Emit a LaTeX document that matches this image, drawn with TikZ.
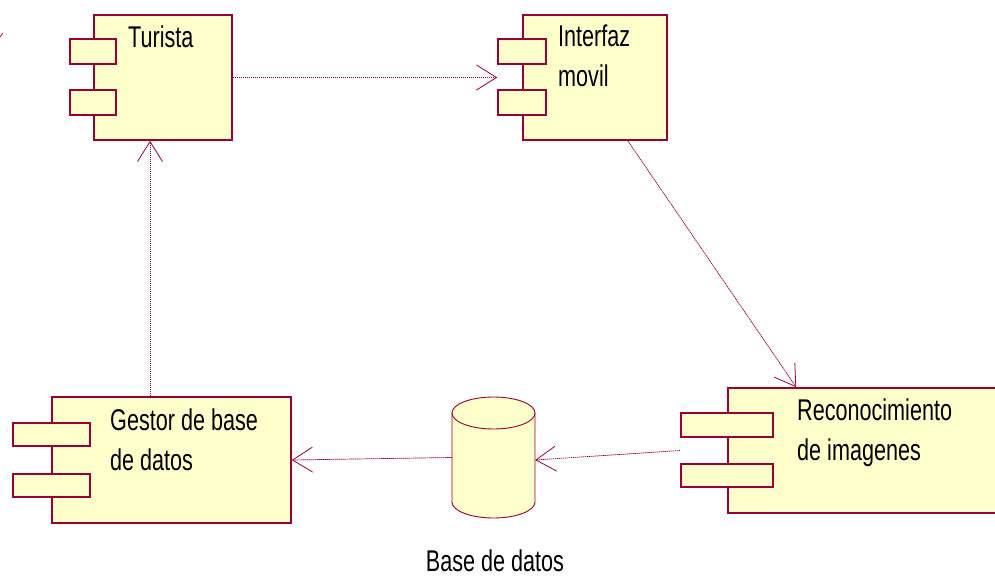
\documentclass[tikz,border=0pt]{standalone}
\usepackage{fontspec}
\newfontfamily\lblfont[FakeStretch=0.72]{Liberation Sans}
\usetikzlibrary{arrows.meta,calc}
\definecolor{umlline}{RGB}{153,0,51}
\definecolor{umlfill}{RGB}{255,255,204}
\tikzset{
  comp/.style={draw=umlline, fill=umlfill, line width=1.6pt, rectangle, inner sep=0pt},
  porttab/.style={draw=umlline, fill=umlfill, line width=1.6pt, rectangle, inner sep=0pt},
  lbl/.style={anchor=base west, inner sep=0pt, align=left, font=\lblfont\fontsize{30}{40}\selectfont},
  dep/.style={draw=umlline, line width=0.7pt, dash pattern=on 1.4pt off 0.6pt,
    -{Straight Barb[length=20pt,width=25pt,line width=0.8pt]}},
}
\begin{document}
\begin{tikzpicture}[x=1pt,y=-1pt]
\useasboundingbox (0,0) rectangle (995,577);

% component: Turista
\node[comp, minimum width=138pt, minimum height=125pt] (turista) at (163,77.5) {};
\node[porttab, minimum width=46pt, minimum height=25pt] (ttab1) at (93,51.5) {};
\node[porttab, minimum width=46pt, minimum height=25pt] (ttab2) at (93,102.5) {};
\node[lbl] (tlbl) at (128,48) {Turista};

% component: Interfaz movil (label anchored at the baseline of its last line)
\node[comp, minimum width=144pt, minimum height=125pt] (interfaz) at (595,77.5) {};
\node[porttab, minimum width=48pt, minimum height=25pt] (itab1) at (522,51.5) {};
\node[porttab, minimum width=48pt, minimum height=25pt] (itab2) at (522,102.5) {};
\node[lbl] (ilbl) at (558,87) {Interfaz\\movil};

% component: Gestor de base de datos
\node[comp, minimum width=239pt, minimum height=126pt] (gestor) at (171.5,460) {};
\node[porttab, minimum width=77pt, minimum height=23pt] (gtab1) at (51.5,434.5) {};
\node[porttab, minimum width=77pt, minimum height=23pt] (gtab2) at (51.5,485.5) {};
\node[lbl] (glbl) at (110,470) {Gestor de base\\de datos};

% component: Reconocimiento de imagenes
\node[comp, minimum width=282pt, minimum height=125pt] (recon) at (869,450.5) {};
\node[porttab, minimum width=92pt, minimum height=24pt] (rtab1) at (727,425) {};
\node[porttab, minimum width=92pt, minimum height=23pt] (rtab2) at (727,475.5) {};
\node[lbl] (rlbl) at (797,460) {Reconocimiento\\de imagenes};

% database cylinder
\node[minimum width=83pt, minimum height=121pt, inner sep=0pt] (db) at (493.5,457.5) {};
\fill[umlfill] (452,413) -- (452,502) arc[start angle=180, end angle=360, x radius=41.5, y radius=-16]
  -- (535,413) arc[start angle=0, end angle=180, x radius=41.5, y radius=-16] -- cycle;
\draw[umlline, line width=0.9pt] (452,413) -- (452,502)
  arc[start angle=180, end angle=360, x radius=41.5, y radius=-16] -- (535,413);
\draw[umlline, line width=0.9pt, fill=umlfill] (493.5,413) ellipse[x radius=41.5, y radius=16];
\node[anchor=base, inner sep=0pt, font=\lblfont\fontsize{30}{40}\selectfont] (dblbl) at (495,571) {Base de datos};

% dependencies
\draw[dep] (turista.east) -- (turista.east -| itab1.west);
\draw[dep] ([xshift=-40pt]interfaz.south east) -- ([xshift=69pt]recon.north west);
\draw[dep] (recon.center -| rtab1.west) -- ([yshift=-2.5pt]db.east);
\draw[dep] (db.west) -- (gestor.east);
\draw[dep] ([xshift=-21.5pt]gestor.north) -- ([xshift=-13pt]turista.south);

% stray mark at the left edge
\draw[umlline, line width=0.7pt] (0,37) -- (3,33);
\end{tikzpicture}
\end{document}
